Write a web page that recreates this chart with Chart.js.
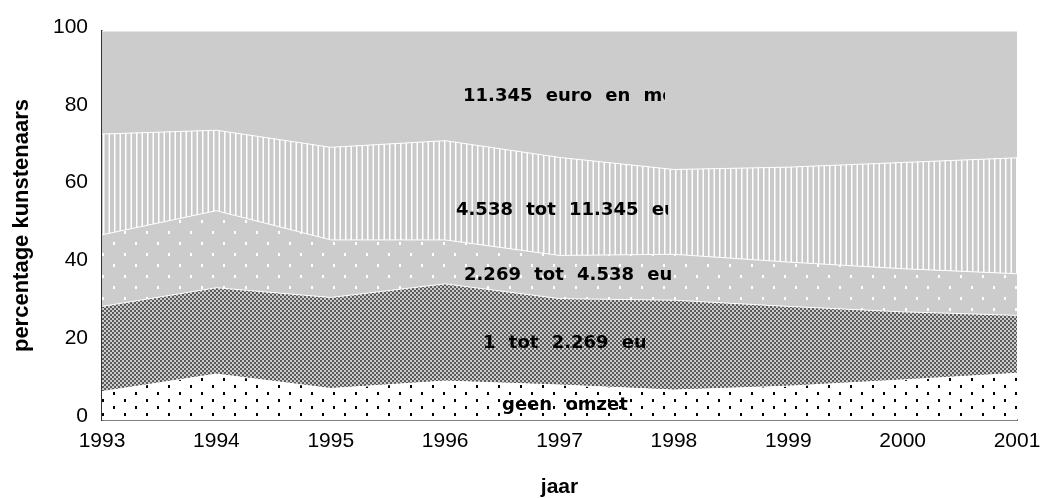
<!DOCTYPE html>
<html>
<head>
<meta charset="utf-8">
<script src="https://cdn.jsdelivr.net/npm/chart.js@4.4.1/dist/chart.umd.min.js"></script>
<style>
html,body{margin:0;padding:0;background:#fff;}
canvas{display:block;}
</style>
</head>
<body>
<canvas id="c" width="1040" height="498"></canvas>
<script>
// ---- data ----
const years = ['1993','1994','1995','1996','1997','1998','1999','2000','2001'];
const seriesNames = ['geen omzet','1 tot 2.269 euro','2.269 tot 4.538 euro','4.538 tot 11.345 euro','11.345 euro en meer'];
const geenOmzet      = [7.3, 11.8, 8.1, 10.0, 9.0, 7.7, 8.7, 10.3, 12.0];
const tot2269        = [21.9, 22.2, 23.4, 25.0, 22.2, 23.1, 20.5, 17.5, 14.9];
const tot4538        = [18.4, 19.8, 14.8, 11.3, 11.1, 11.8, 11.4, 11.1, 10.7];
const tot11345       = [25.9, 20.7, 23.8, 25.5, 25.2, 21.8, 24.4, 27.3, 29.8];
const euro11345Meer  = [26.5, 25.5, 29.9, 28.2, 32.5, 35.6, 35.0, 33.8, 32.6];
const yTicks = [0, 20, 40, 60, 80, 100];
const yTitle = 'percentage kunstenaars';
const xTitle = 'jaar';

// ---- patterns ----
function tile(w, h, draw) {
  const c = document.createElement('canvas');
  c.width = w; c.height = h;
  const g = c.getContext('2d');
  draw(g);
  return document.getElementById('c').getContext('2d').createPattern(c, 'repeat');
}
const patBlackDots = tile(22, 14, g => {
  g.fillStyle = '#ffffff'; g.fillRect(0, 0, 22, 14);
  g.fillStyle = '#000000'; g.fillRect(3, 0, 2, 3); g.fillRect(14, 7, 2, 3);
});
const patChecker = tile(4, 4, g => {
  g.fillStyle = '#cccccc'; g.fillRect(0, 0, 4, 4);
  g.fillStyle = '#5a5a5a'; g.fillRect(0, 0, 2, 2); g.fillRect(2, 2, 2, 2);
});
const patWhiteDots = tile(22, 22, g => {
  g.fillStyle = '#cccccc'; g.fillRect(0, 0, 22, 22);
  g.fillStyle = '#ffffff'; g.fillRect(3, 0, 2, 3); g.fillRect(14, 11, 2, 3);
});
const patStripes = tile(11, 8, g => {
  g.fillStyle = '#cacaca'; g.fillRect(0, 0, 11, 8);
  g.fillStyle = '#ffffff'; g.fillRect(4, 0, 1.5, 8); g.fillRect(9.5, 0, 1.5, 8);
});
const fills = [patBlackDots, patChecker, patWhiteDots, patStripes, '#cccccc'];
const seriesData = [geenOmzet, tot2269, tot4538, tot11345, euro11345Meer];

// ---- label layout (positions only) ----
const labelLayout = [
  {x: 502, y: 405, clip: 1040},
  {x: 483, y: 343, clip: 645},
  {x: 464, y: 275, clip: 671},
  {x: 456, y: 210, clip: 668},
  {x: 463, y: 96,  clip: 665}
];

const labelPlugin = {
  id: 'areaLabels',
  afterDatasetsDraw(chart) {
    const ctx = chart.ctx;
    ctx.save();
    ctx.font = 'bold 18px "DejaVu Sans"';
    ctx.fillStyle = '#000';
    ctx.textBaseline = 'middle';
    ctx.textAlign = 'left';
    const sp = ctx.measureText(' ').width + 7;
    seriesNames.forEach((name, i) => {
      const L = labelLayout[i];
      ctx.save();
      ctx.beginPath();
      ctx.rect(L.x - 2, L.y - 15, L.clip - L.x + 2, 30);
      ctx.clip();
      let x = L.x;
      name.split(' ').forEach(w => {
        ctx.fillText(w, x, L.y);
        x += ctx.measureText(w).width + sp;
      });
      ctx.restore();
    });
    ctx.restore();
  }
};

Chart.defaults.font.family = '"Liberation Sans", Arial, sans-serif';
Chart.defaults.color = '#000';

new Chart(document.getElementById('c'), {
  type: 'line',
  data: {
    labels: years,
    datasets: seriesNames.map((n, i) => ({
      label: n,
      data: seriesData[i],
      backgroundColor: fills[i],
      borderColor: '#ffffff',
      borderWidth: 1,
      pointRadius: 0,
      tension: 0,
      fill: i === 0 ? 'origin' : '-1'
    }))
  },
  options: {
    responsive: false,
    animation: false,
    devicePixelRatio: 1,
    layout: {padding: {top: 31, right: 23, left: 0, bottom: 0}},
    plugins: {legend: {display: false}, tooltip: {enabled: false}},
    scales: {
      x: {
        z: 1,
        offset: false,
        grid: {display: false, drawTicks: false},
        border: {display: true, color: '#808080', width: 2},
        ticks: {font: {size: 21}, padding: 9, maxRotation: 0, autoSkip: false},
        title: {display: true, text: xTitle, font: {size: 21, weight: 'bold', lineHeight: 1}, padding: {top: 0, bottom: 0}},
        afterFit(s) { s.height = 78; s.paddingLeft = 0; s.paddingRight = 0; }
      },
      y: {
        z: 1,
        stacked: true,
        min: 0, max: 100,
        grid: {display: false, drawTicks: false},
        border: {display: true, color: '#333333', width: 1.5},
        afterBuildTicks(s) { s.ticks = yTicks.map(v => ({value: v})); },
        ticks: {font: {size: 21}, padding: 14, labelOffset: -4},
        title: {display: true, text: yTitle, font: {size: 22, weight: 'bold', lineHeight: 1.2}, padding: {top: 9, bottom: 0}},
        afterFit(s) { s.width = 102; s.paddingTop = 0; s.paddingBottom = 0; }
      }
    }
  },
  plugins: [labelPlugin]
});
</script>
</body>
</html>
